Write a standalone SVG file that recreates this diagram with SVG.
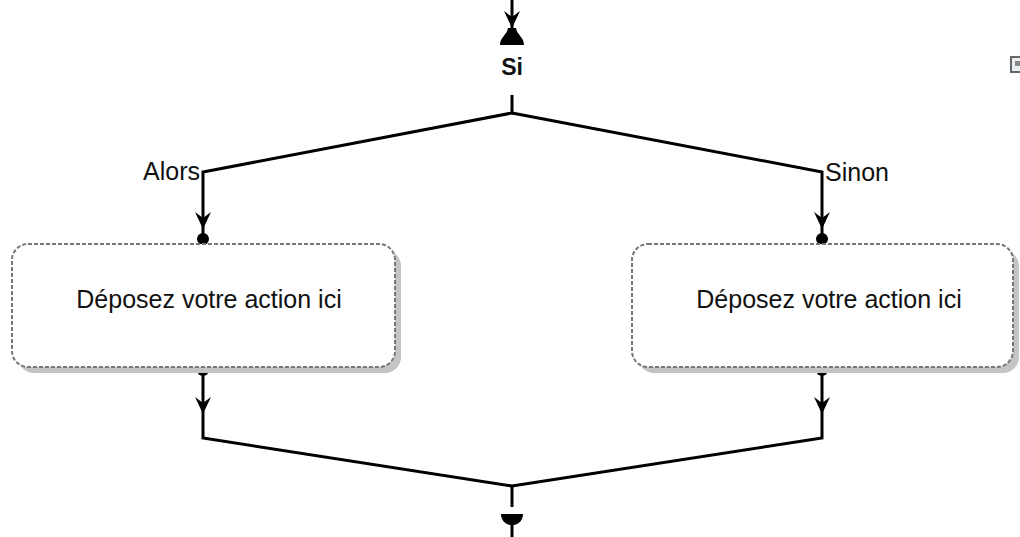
<svg xmlns="http://www.w3.org/2000/svg" xmlns:xlink="http://www.w3.org/1999/xlink" width="1020" height="537" viewBox="0 0 1020 537">
<style>
.ln{fill:none;stroke:#000;stroke-width:3}
.box{fill:#fff;stroke:#777;stroke-width:2;stroke-dasharray:4 2}
.sh{fill:#c4c4c4}
.t{font-family:"Liberation Sans",Arial,sans-serif;font-size:25px;fill:#111}
.b{font-weight:bold;font-size:23px}
</style>
<defs>
<path id="arr" d="M0,0 L-8,-17 L0,-11 L8,-17 Z" fill="#000"/>
<circle id="dot" r="6" fill="#000"/>
</defs>
<rect width="1020" height="537" fill="#fff"/>
<g id="connectors">
<path class="ln" d="M512,0 V30"/>
<use xlink:href="#arr" x="512" y="28"/>
<path d="M500,45 C500,37 507,35 508,28 L516,28 C517,35 524,37 524,45 Z" fill="#000"/>
<path class="ln" d="M512,95 V113 L203,172 V240"/>
<path class="ln" d="M512,113 L822,172 V240"/>
<use xlink:href="#arr" x="203" y="229"/>
<use xlink:href="#arr" x="822" y="229"/>
<use xlink:href="#dot" x="203" y="239"/>
<use xlink:href="#dot" x="822" y="239"/>
<path class="ln" d="M203,370 V438 L512,486 L822,438 V370"/>
<path class="ln" d="M512,486 V507"/>
<use xlink:href="#arr" x="203" y="414"/>
<use xlink:href="#arr" x="822" y="414"/>
<use xlink:href="#dot" x="203" y="370"/>
<use xlink:href="#dot" x="822" y="370"/>
<path d="M501,514 L523,514 C523,520 519,524 514,525 L510,525 C505,524 501,520 501,514 Z" fill="#000"/>
<path class="ln" d="M512,522 V537"/>
<text class="t" x="200" y="180" text-anchor="end">Alors</text>
<text class="t" x="825" y="181">Sinon</text>
</g>
<g id="si">
<text class="t b" x="512" y="75" text-anchor="middle">Si</text>
</g>
<g id="action-alors">
<rect class="sh" x="18" y="250" width="383" height="123" rx="16"/>
<rect class="box" x="12" y="244" width="383" height="123" rx="16"/>
<text class="t" x="209" y="308" text-anchor="middle">Déposez votre action ici</text>
</g>
<g id="action-sinon">
<rect class="sh" x="638" y="250" width="381" height="123" rx="16"/>
<rect class="box" x="632" y="244" width="381" height="123" rx="16"/>
<text class="t" x="829" y="308" text-anchor="middle">Déposez votre action ici</text>
</g>
<g id="icon">
<rect x="1011" y="57" width="12" height="15" fill="#e8eef2" stroke="#666" stroke-width="2"/>
<rect x="1015" y="61" width="5" height="5" fill="#888"/>
</g>
</svg>
